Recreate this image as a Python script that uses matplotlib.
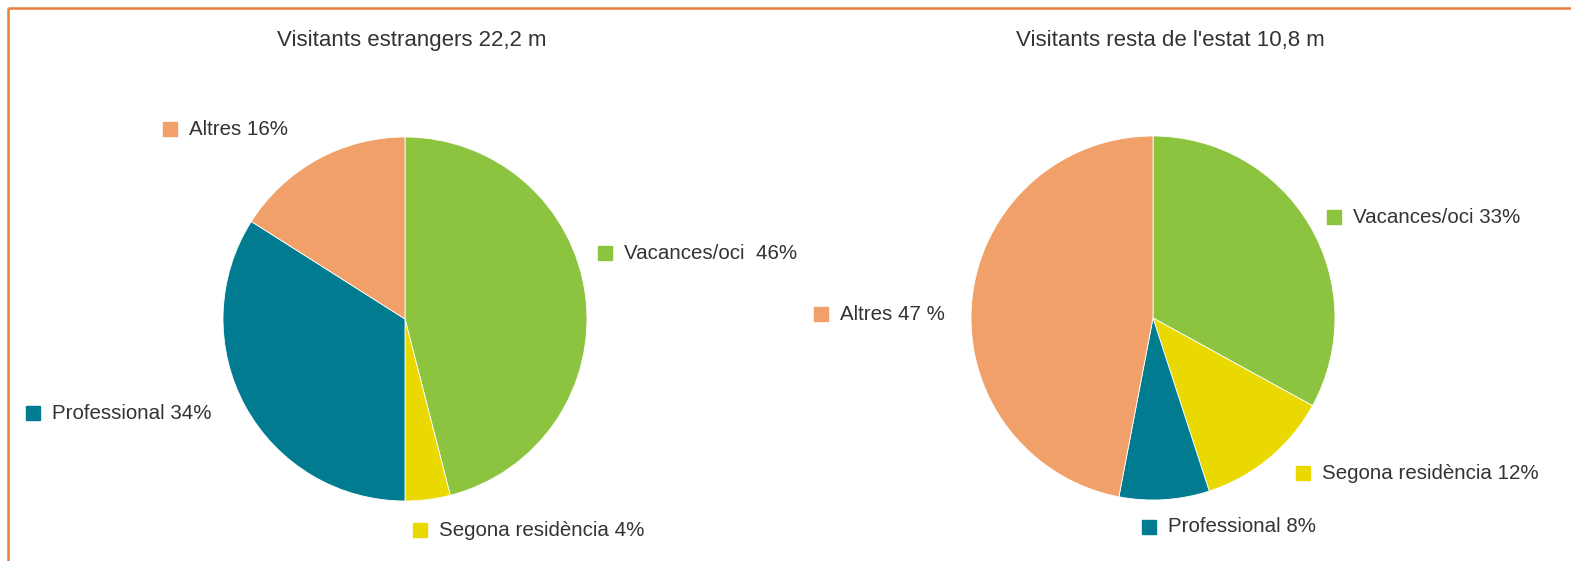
import matplotlib.pyplot as plt

plt.rcParams['font.family'] = ['Liberation Sans Narrow', 'Liberation Sans', 'DejaVu Sans']

# data
cats = ['Vacances/oci', 'Segona residència', 'Professional', 'Altres']
colors = ['#8cc43f', '#e9d900', '#007b8f', '#f0a068']

titles = ['Visitants estrangers 22,2 m', "Visitants resta de l'estat 10,8 m"]
vals_estr = [46, 4, 34, 16]
vals_estat = [33, 12, 8, 47]
labels_estr = ['Vacances/oci  46%', 'Segona residència 4%', 'Professional 34%', 'Altres 16%']
labels_estat = ['Vacances/oci 33%', 'Segona residència 12%', 'Professional 8%', 'Altres 47 %']

W, H = 1571, 561
fig = plt.figure(figsize=(W / 100, H / 100), dpi=100)
ax = fig.add_axes([0, 0, 1, 1])

# pies drawn in pixel coords (y flipped, so counterclock=True gives clockwise on screen)
centers = [(405, 319), (1153, 318)]
R = 182
for c, vals in zip(centers, [vals_estr, vals_estat]):
    ax.pie(vals, colors=colors, startangle=-90, counterclock=True, radius=R, center=c,
           frame=True, wedgeprops=dict(edgecolor='white', linewidth=0.6))
ax.set_xlim(0, W)
ax.set_ylim(H, 0)
ax.set_aspect('auto')
ax.axis('off')

# titles
ax.text(412, 40, titles[0], ha='center', va='center', fontsize=16, color='#333333')
ax.text(1170, 40, titles[1], ha='center', va='center', fontsize=16, color='#333333')

# label positions (square centre)
pos_estr = [(605, 253), (420, 530), (33, 413), (170, 129)]
pos_estat = [(1334, 217), (1303, 473), (1149, 527), (821, 314)]
for pos, labs in [(pos_estr, labels_estr), (pos_estat, labels_estat)]:
    for (x, y), lab, col in zip(pos, labs, colors):
        ax.plot(x, y, marker='s', markersize=10.5, color=col, linestyle='none')
        ax.text(x + 19, y, lab, ha='left', va='center', fontsize=14.8, color='#333333')

# orange frame (top and left)
ax.plot([8, W], [8, 8], color='#e87d3e', linewidth=1.8, solid_capstyle='butt')
ax.plot([8, 8], [8, H], color='#e87d3e', linewidth=1.8, solid_capstyle='butt')

fig.savefig('out.png', dpi=100)
